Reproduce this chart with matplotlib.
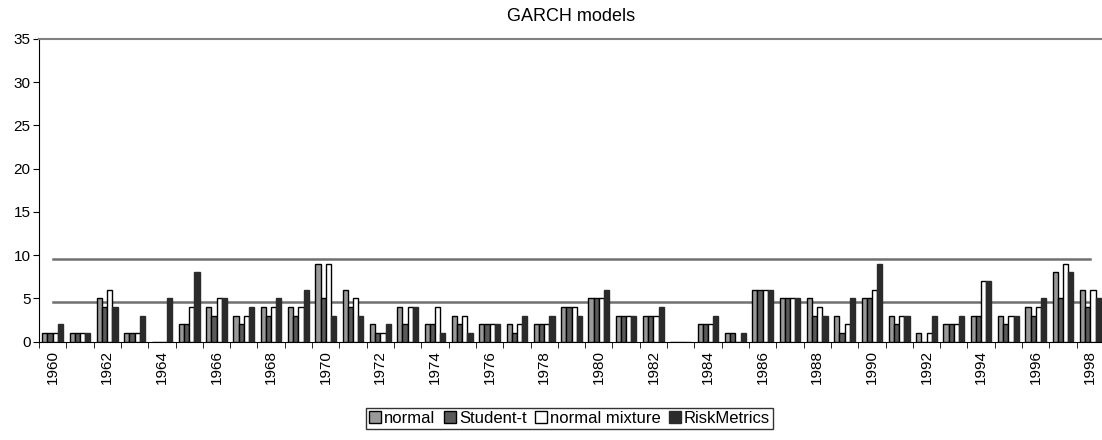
import matplotlib.pyplot as plt
import numpy as np
from matplotlib.ticker import FixedLocator, MultipleLocator

plt.rcParams['font.family'] = ['Liberation Sans', 'DejaVu Sans']

years = list(range(1960, 1999))

# number of exceedances per year, by model
normal = [1, 1, 5, 1, 0, 2, 4, 3, 4, 4, 9, 6, 2, 4, 2, 3, 2, 2, 2, 4,
          5, 3, 3, 0, 2, 1, 6, 5, 5, 3, 5, 3, 1, 2, 3, 3, 4, 8, 6]
student_t = [1, 1, 4, 1, 0, 2, 3, 2, 3, 3, 5, 4, 1, 2, 2, 2, 2, 1, 2, 4,
             5, 3, 3, 0, 2, 1, 6, 5, 3, 1, 5, 2, 0, 2, 3, 2, 3, 5, 4]
normal_mixture = [1, 1, 6, 1, 0, 4, 5, 3, 4, 4, 9, 5, 1, 4, 4, 3, 2, 2, 2, 4,
                  5, 3, 3, 0, 2, 0, 6, 5, 4, 2, 6, 3, 1, 2, 7, 3, 4, 9, 6]
riskmetrics = [2, 1, 4, 3, 5, 8, 5, 4, 5, 6, 3, 3, 2, 4, 1, 1, 2, 3, 3, 3,
               6, 3, 4, 0, 3, 1, 6, 5, 3, 5, 9, 3, 3, 3, 7, 3, 5, 8, 5]

# acceptance band limits
upper_limit = 9.5
lower_limit = 4.6

series = [
    ("normal", normal, "#999999", "black"),
    ("Student-t", student_t, "#5a5a5a", "black"),
    ("normal mixture", normal_mixture, "white", "black"),
    ("RiskMetrics", riskmetrics, "#2b2b2b", "#2b2b2b"),
]

fig = plt.figure(figsize=(11.02, 4.4), dpi=100)
ax = fig.add_axes([39 / 1102, 1 - 341.5 / 440, 1065 / 1102, 302.5 / 440])

x = np.arange(len(years))
w = 0.19
for i, (name, vals, fc, ec) in enumerate(series):
    ax.bar(x + (i - 1.5) * w, vals, width=w, color=fc, edgecolor=ec,
           linewidth=1.0, label=name, zorder=3)

ax.plot([x[0], x[-1]], [upper_limit, upper_limit], color="#707070", lw=1.8, zorder=2)
ax.plot([x[0], x[-1]], [lower_limit, lower_limit], color="#707070", lw=1.8, zorder=2)

ax.set_xlim(-0.5, len(years) - 0.5)
ax.set_ylim(0, 35)
ax.yaxis.set_major_locator(MultipleLocator(5))
ax.tick_params(axis="y", direction="out", length=4, labelsize=11, pad=2)

ax.set_xticks(x[::2])
ax.set_xticklabels([str(y) for y in years[::2]], rotation=90, fontsize=11)
ax.xaxis.set_minor_locator(FixedLocator(np.arange(-0.5, len(years), 1)))
ax.tick_params(axis="x", which="major", length=0, pad=6)
ax.tick_params(axis="x", which="minor", direction="out", length=4)

for side in ("left", "bottom"):
    ax.spines[side].set_color("black")
ax.spines["top"].set_color("#808080")
ax.spines["top"].set_linewidth(1.5)
ax.spines["right"].set_color("#dddddd")

ax.set_title("GARCH models", fontsize=13, pad=13)

leg = fig.legend(loc="lower center", bbox_to_anchor=(0.517, 0.005), ncol=4,
                 fontsize=12, frameon=True, fancybox=False, edgecolor="black",
                 handlelength=0.7, handleheight=0.7, handletextpad=0.2,
                 columnspacing=0.5, borderpad=0.2)
leg.get_frame().set_linewidth(1.0)

fig.savefig("out.png", dpi=100)
